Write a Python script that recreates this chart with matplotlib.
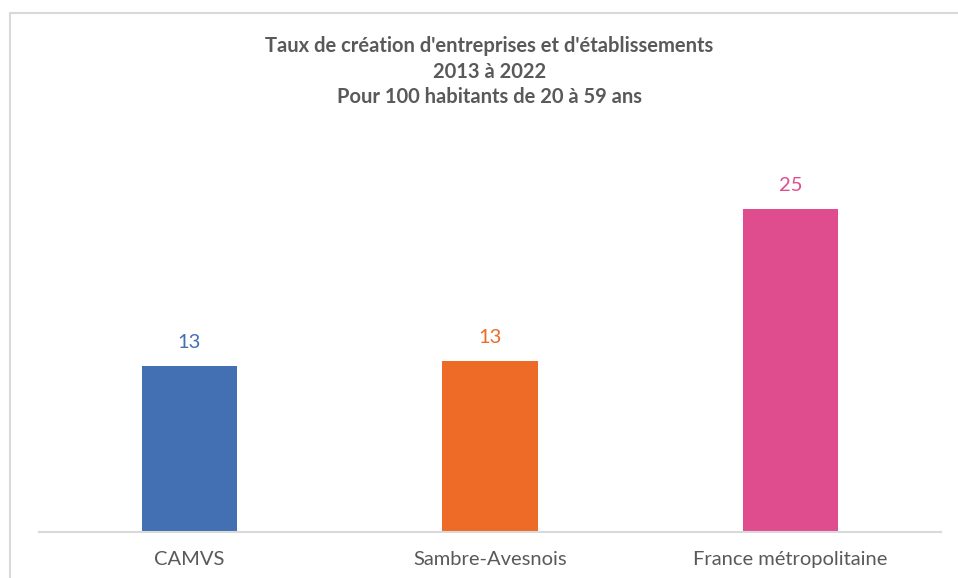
import matplotlib.pyplot as plt
from matplotlib.patches import Rectangle

categories = ["CAMVS", "Sambre-Avesnois", "France métropolitaine"]
values = [12.85, 13.2, 25.0]
labels = ["13", "13", "25"]
colors = ["#4270B3", "#ED6A27", "#E04D8F"]

title = ("Taux de création d'entreprises et d'établissements\n"
         "2013 à 2022\n"
         "Pour 100 habitants de 20 à 59 ans")

plt.rcParams['font.family'] = ['Lato', 'DejaVu Sans']
grey = "#595959"

fig = plt.figure(figsize=(9.58, 5.78), dpi=100)
ax = fig.add_axes([39 / 958, 46 / 578, 902 / 958, 387.6 / 578])

x = list(range(len(categories)))
bars = ax.bar(x, values, width=0.316, color=colors)
for b, lab, c in zip(bars, labels, colors):
    ax.annotate(lab, (b.get_x() + b.get_width() / 2, b.get_height()),
                xytext=(0, 11), textcoords="offset points",
                ha="center", va="bottom", fontsize=14.5, color=c)

ax.set_xlim(-0.5, 2.5)
ax.set_ylim(0, 30)
ax.set_xticks(x)
ax.set_xticklabels(categories, fontsize=14.5, color=grey)
ax.tick_params(axis="x", length=0, pad=14)
ax.set_yticks([])
for s in ["top", "right", "left"]:
    ax.spines[s].set_visible(False)
ax.spines["bottom"].set_color("#D9D9D9")
ax.spines["bottom"].set_linewidth(1.5)

fig.text(489.5 / 958, 1 - 71.5 / 578, title, ha="center", va="center",
         fontsize=14.5, fontweight="bold", color=grey, linespacing=1.34)

# chart frame
fig.patches.append(Rectangle((9.5 / 958, -0.1), 1.0, 1 - 13.5 / 578 + 0.1,
                             transform=fig.transFigure, fill=False,
                             edgecolor="#D9D9D9", linewidth=1.5))

fig.savefig("out.png", dpi=100)
